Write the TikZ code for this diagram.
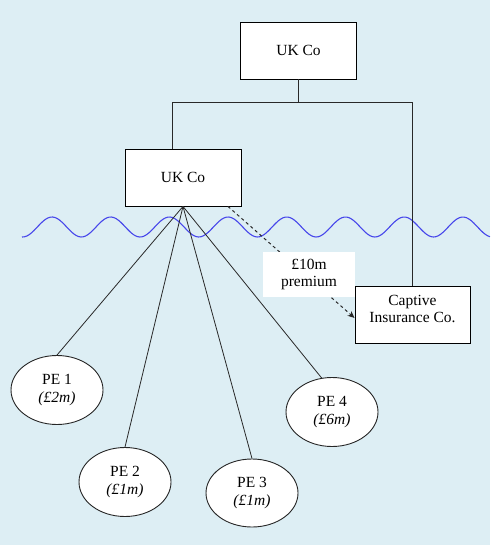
\documentclass[tikz,border=0pt]{standalone}
\usepackage{fontspec}
\setmainfont{Liberation Serif}
\usetikzlibrary{shapes.geometric,arrows.meta}
\definecolor{bgblue}{RGB}{221,238,244}
\definecolor{wave}{RGB}{70,70,235}
\definecolor{linegrey}{RGB}{40,40,40}
\begin{document}
\begin{tikzpicture}[x=1pt,y=-1pt,
  font=\fontsize{15.5}{17.5}\selectfont,
  boxed/.style={draw=black,line width=0.9pt,fill=white,rectangle,inner sep=0pt,
    minimum width=116pt,minimum height=57pt,align=center},
  pe/.style={draw=black!85,line width=0.9pt,fill=white,ellipse,inner sep=0pt,
    minimum width=92pt,minimum height=69pt,align=center},
  conn/.style={draw=linegrey,line width=0.8pt}]
\fill[bgblue] (0,0) rectangle (490,545);
\useasboundingbox (0,0) rectangle (490,545);
% wave
\draw[wave,line width=1.1pt] plot[domain=22:490,samples=200,smooth] (\x,{227-10*cos(6.1329*(\x-52))});
% boxes
\node[boxed] (top) at (298.5,50.5) {UK Co};
\node[boxed] (mid) at (183,177.5) {UK Co};
\node[boxed,minimum width=115pt] (cap) at (412.5,314.5) {};
\node[align=center,inner sep=0pt] (captxt) at (412.5,309) {Captive\\Insurance Co.};
% ellipses
\node[pe] (pe1) at (57,390) {PE 1\\\textit{(£2m)}};
\node[pe] (pe2) at (125,482) {PE 2\\\textit{(£1m)}};
\node[pe,minimum height=68pt] (pe3) at (252,493) {PE 3\\\textit{(£1m)}};
\node[pe] (pe4) at (332,412) {PE 4\\\textit{(£6m)}};
% tree connectors
\coordinate (bus) at (298.5,102);
\coordinate (lt) at (172,102);
\coordinate (rt) at (412.5,102);
\draw[conn] (top.south) -- (bus);
\draw[conn] (mid.north -| lt) -- (lt) -- (rt) -- (cap.north);
\coordinate (hub) at (mid.south);
\draw[conn] (hub) -- (pe1.north);
\draw[conn] (hub) -- (pe2.north);
\draw[conn] (hub) -- (pe3.north);
\draw[conn] (hub) -- (pe4.107);
% premium arrow
\draw[conn,line width=1pt,dash pattern=on 3pt off 3pt,-{Stealth[length=7pt,width=6pt]}]
  ([xshift=45pt]mid.south) -- ([yshift=-3.5pt]cap.west);
\node[fill=white,inner sep=0pt,minimum width=92pt,minimum height=45pt,align=center] (lbl) at (309,274.5) {£10m\\premium};
\end{tikzpicture}
\end{document}
